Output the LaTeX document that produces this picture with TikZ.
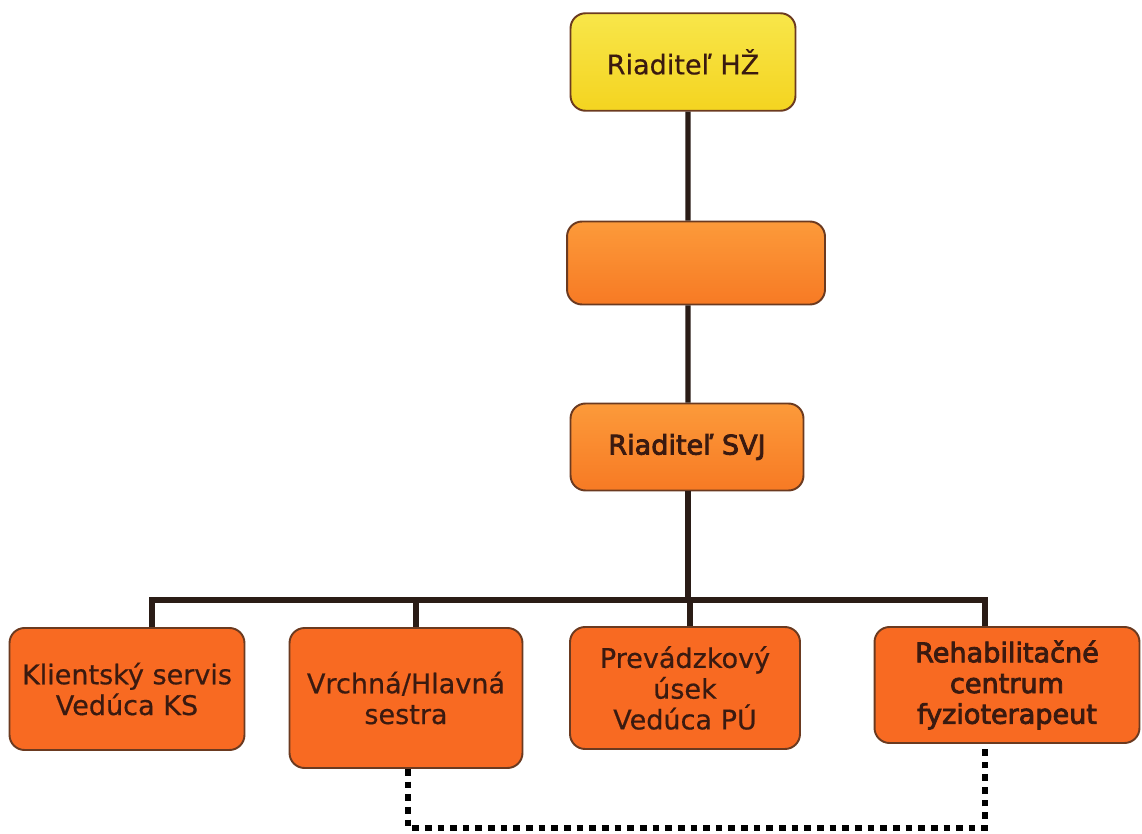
\documentclass[tikz,border=0pt]{standalone}
\usepackage{fontspec}
\setmainfont{DejaVu Sans}[FakeBold=0.5]
\newfontfamily\heavyfont[FakeBold=3]{DejaVu Sans}
\usepackage{tikz}
\usetikzlibrary{positioning, calc}

\definecolor{boxline}{HTML}{6B3A20}
\definecolor{linkcol}{HTML}{2A1C16}
\definecolor{textcol}{HTML}{3A1A10}
\definecolor{yeltop}{HTML}{F8E64A}
\definecolor{yelbot}{HTML}{F4D420}
\definecolor{orgtop}{HTML}{FC9A3A}
\definecolor{orgbot}{HTML}{F77A24}
\definecolor{unitfill}{HTML}{F86A22}

\begin{document}
\begin{tikzpicture}[x=0.02cm, y=-0.02cm,
    box/.style={draw=boxline, line width=1.1pt, rounded corners=0.3cm, align=center,
        text=textcol, font=\fontsize{15.4}{17.5}\selectfont, inner sep=2pt},
    topbox/.style={box, top color=yeltop, bottom color=yelbot},
    midbox/.style={box, top color=orgtop, bottom color=orgbot},
    unitbox/.style={box, fill=unitfill},
    conn/.style={draw=linkcol, line width=2.9pt},
    dotline/.style={draw=black, line width=3.6pt, dash pattern=on 3.8pt off 3.4pt}]
\useasboundingbox (0,0) rectangle (1142,834);

% Top of the hierarchy
\node[topbox, minimum width=4.5cm, minimum height=1.95cm] (hz) at (683,62) {Riaditeľ HŽ};
\node[midbox, minimum width=5.16cm, minimum height=1.66cm] (mid) at (696,263) {};
\node[midbox, minimum width=4.66cm, minimum height=1.74cm] (svj) at (687,447) {\heavyfont Riaditeľ SVJ};

% Units
\node[unitbox, minimum width=4.7cm, minimum height=2.44cm] (ks) at (127,689) {Klientský servis\\Vedúca KS};
\node[unitbox, minimum width=4.66cm, minimum height=2.8cm] (ses) at (406,698) {Vrchná/Hlavná\\sestra};
\node[unitbox, minimum width=4.6cm, minimum height=2.44cm] (pu) at (685,688) {Prevádzkový\\úsek\\Vedúca PÚ};
\node[unitbox, minimum width=5.3cm, minimum height=2.32cm] (rc) at (1007,685) {\heavyfont Rehabilitačné\\\heavyfont centrum\\\heavyfont fyzioterapeut};

% Lines between levels
\coordinate (bus) at (688,600);
\coordinate (low) at (700,828);
\draw[conn] ([xshift=0.1cm]hz.south) -- ([xshift=-0.16cm]mid.north);
\draw[conn] ([xshift=-0.16cm]mid.south) -- ([xshift=0.02cm]svj.north);
\draw[conn] ([xshift=0.02cm]svj.south) -- (bus);
\draw[conn] ([xshift=0.5cm]ks.north) |- (bus);
\draw[conn] ([xshift=0.2cm]ses.north) |- (bus);
\draw[conn] ([xshift=0.1cm]pu.north) |- (bus);
\draw[conn] ([xshift=-0.44cm]rc.north) |- (bus);

% Dotted link
\draw[dotline] ([xshift=0.04cm]ses.south) |- (low) -| ([xshift=-0.44cm]rc.south);
\end{tikzpicture}
\end{document}
